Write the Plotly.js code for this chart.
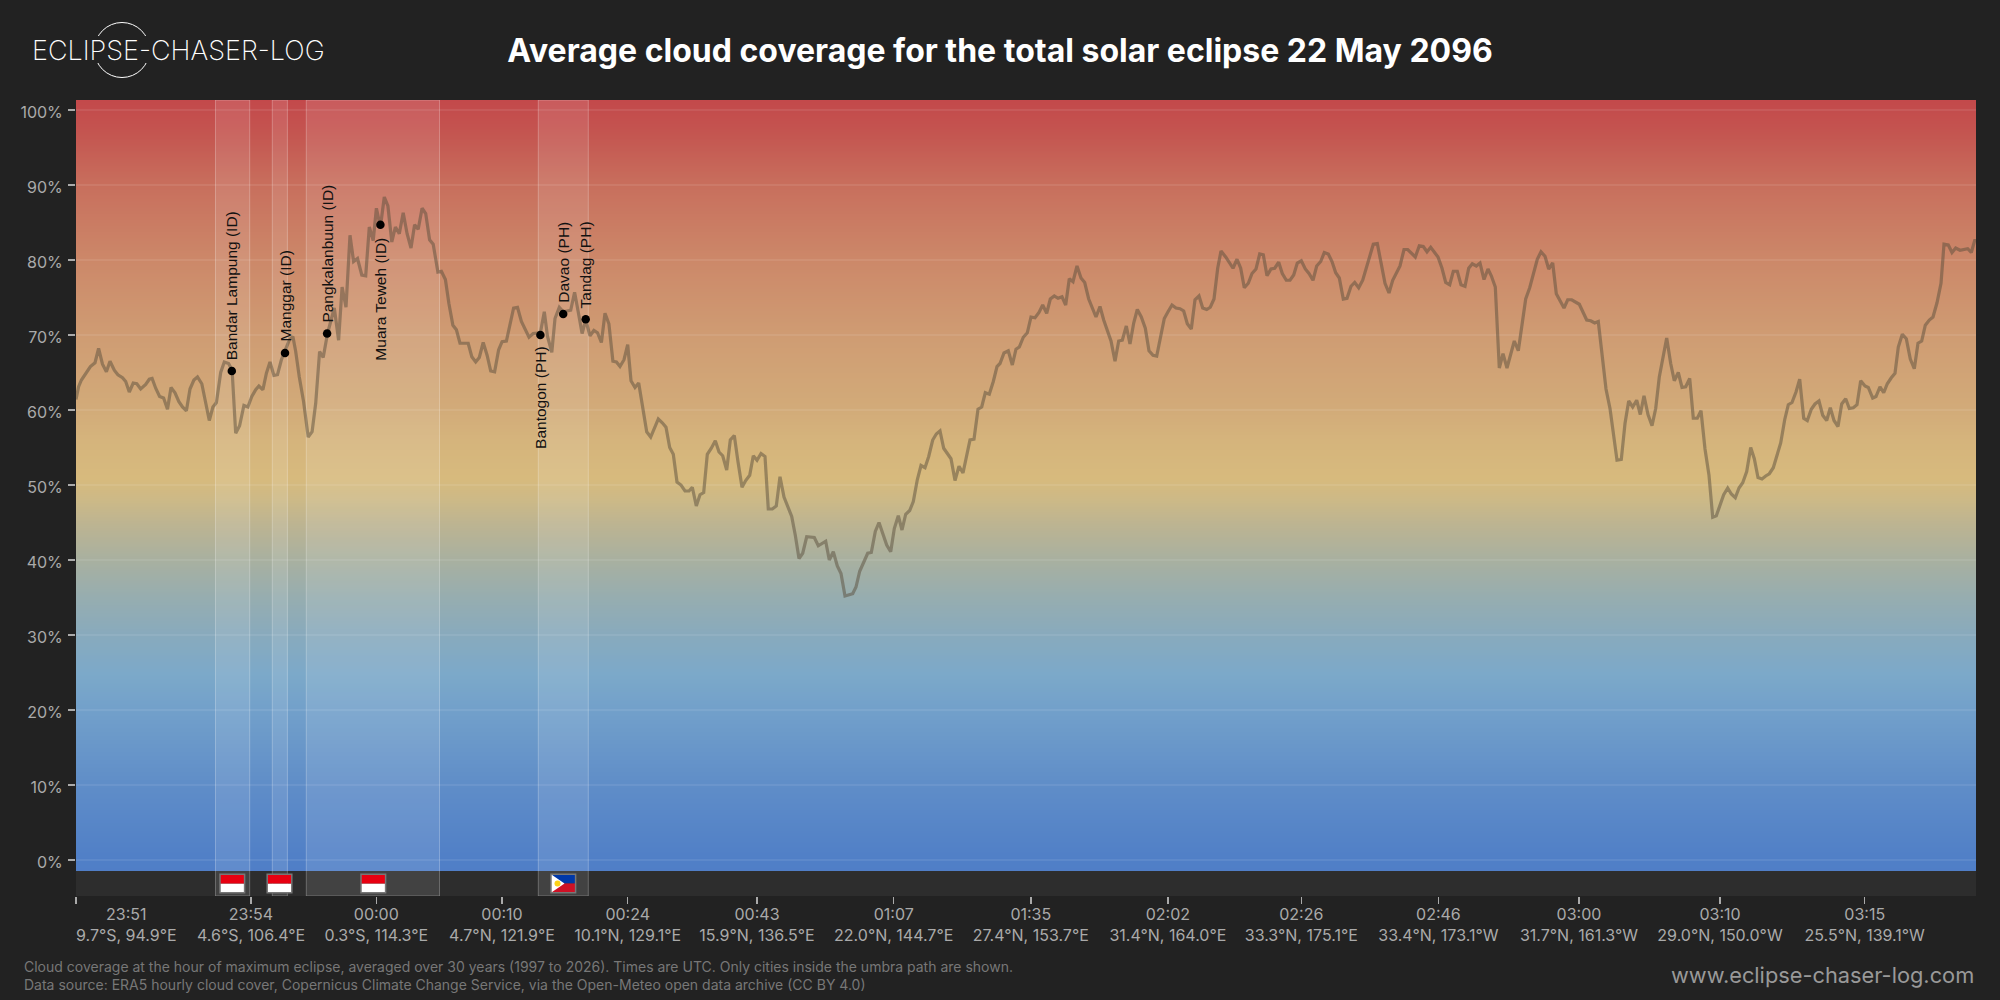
<!DOCTYPE html>
<html><head><meta charset="utf-8">
<script src="https://cdn.plot.ly/plotly-3.0.1.min.js"></script>
<style>html,body{margin:0;padding:0;background:#222222}</style></head>
<body><div id="chart" style="width:2000px;height:1000px"></div>
<script>
const pathPos=[
0,2.6,5.4,10.8,14.4,19,22.6,26.5,30.4,34,
38.3,41.9,46.5,49.7,53.3,57.2,60.8,64.7,69.7,73.3,
76.1,79.7,83.6,87.6,91.5,95,99,102.9,106.5,110.4,
114,117.9,121.5,125.8,129.4,133.3,136.9,140.4,144.7,148.3,
152.6,156.1,159.7,163.6,167.9,171.9,175.8,179.7,182.9,186.9,
190.4,194,197.9,201.5,205.4,209.7,213.3,216.9,219.7,223.3,
227.6,232.2,236.1,239.7,243.6,247.2,251.5,254.7,258.3,262.6,
266.1,270,274,277.6,281.5,285.8,289.7,293.3,297.2,300.4,
304.4,308.3,311.9,315.8,319.4,323.3,327.2,331.1,335,338.6,
342.2,346.1,349.7,353.6,357.2,361.9,365.4,369.4,372.9,376.9,
380.4,384,392.2,395.8,399.7,403.3,407.2,411.1,414.7,418.6,
422.6,426.1,430.4,437.6,441.5,445.4,453,457.2,464.4,468.3,
471.5,475.8,479,483.3,487.2,494.7,498.6,502.2,506.1,509.7,
514,517.9,521.5,525.4,529,532.9,536.9,540.4,544,548,
551.7,555,559,562.7,566.7,570.7,574.7,578.7,582.3,586.3,
590,593.7,597.3,601,605,609,613,616.3,620.3,624,
627.7,631.3,635.3,639.3,643,646.7,650.7,654.3,658.3,662,
666,669.7,673.7,677.3,681,685,689,692.3,696.3,700.3,
704,708,715.7,719.3,723,726.7,730.7,738.3,742.3,749.7,
753.3,757.3,761.3,765,769,776.7,780,783.7,791.7,795.3,
799.3,803,810.7,814.7,818.3,822.3,826,829.7,833.7,837.3,
841.3,845,849,852.7,856.7,860.3,864,867.7,871.3,875,
879,883,887,890.7,894,898,902,905.7,909.3,913.3,
917.3,921,924,928,932.3,936.3,940,943.3,947.3,951.3,
955,959,963,966.7,970.7,974.3,978.3,982,986,989.7,
993.3,997,1001,1005,1008.7,1012.7,1020,1024,1027.7,1035,
1039,1042.7,1046.3,1050.3,1054,1057.7,1061.3,1065.3,1069.3,1073,
1077,1080.7,1084.7,1088.3,1092,1096,1100,1104,1107.7,1111.3,
1115.3,1119,1123,1126.7,1130.7,1134.3,1138,1141.7,1145,1149.7,
1157,1161,1164.7,1168.3,1172.3,1176,1180,1183.7,1187.3,1191,
1195,1198.7,1202.7,1206.3,1210.3,1214,1217.7,1221.3,1225.3,1229.3,
1233,1237,1240.7,1244.7,1248.3,1252.3,1256,1259.7,1263.3,1267.3,
1271,1275,1278.7,1282.7,1286.7,1290.7,1294,1297.3,1301.3,1305,
1309,1313,1316.7,1324,1328,1331.7,1339.3,1343.3,1347.3,1351,
1354.7,1362,1366,1369.7,1373.7,1377.3,1381.3,1385,1389,1392.7,
1396.3,1400.3,1404,1408,1412,1415.3,1419.3,1423.3,1427,1431,
1434.7,1438.3,1442.3,1446,1449.7,1453.7,1461.3,1465,1469,1472.7,
1476.7,1480.3,1488,1491.7,1495.7,1503.3,1510.7,1514.7,1518.7,1522.3,
1526.3,1530,1534,1541,1545.3,1549,1552.7,1556.7,1560.7,1564.3,
1568,1572,1576,1579.7,1583.3,1590.7,1594.7,1598.3,1602.3,1606,
1609.7,1613.7,1617.3,1621.3,1625,1629,1633,1636.7,1640.3,1647.7,
1651.7,1655.3,1659.3,1663,1666.7,1670.7,1674.7,1678.3,1682,1686,
1689.7,1693.3,1697.3,1704.7,1708.7,1712.3,1716,1720,1723.7,1727.7,
1731.3,1735.3,1739,1743,1746.7,1750.7,1754.3,1758,1762,1765.7,
1769.7,1773.3,1777.3,1781,1784.7,1789,1792.3,1796.7,1800,1804,
1807.7,1811.3,1815.3,1819,1822.3,1826.3,1830.3,1834.3,1838.3,1842,
1845.7,1849.3,1853.3,1857,1861,1865,1868,1872.3,1876,1879.7,
1884,1891.7,1895.3,1898.7,1900];
const cloudCover=[
61.4,63.1,64,65.2,65.8,66.3,68.2,66.1,65.1,66.5,
65.3,64.7,64.3,63.8,62.4,63.6,63.5,62.8,63.4,64.1,
64.2,62.9,61.8,61.6,60.1,63,62.3,61.1,60.4,59.9,
62.8,64,64.4,63.5,61.1,58.6,60.4,61,65,66.4,
66.2,65.3,56.9,57.9,60.6,60.4,61.8,62.7,63.2,62.7,
64.9,66.4,64.6,64.7,66.7,68,69.3,69.8,67.8,64.4,
61.1,56.4,57.1,60.9,67.8,67,70.2,71.8,73.6,69.3,
76.4,73.7,83.3,79.8,80.2,78,77.9,84.4,82.6,86.9,
84.4,88.4,87.2,82.4,84.4,83.5,86.3,83.5,81.6,84.7,
84.1,86.9,86.2,82.7,82.1,78.4,78.5,77.4,74.2,71.3,
70.7,68.9,68.9,67.1,66.4,67,69,67.3,65.2,65.1,
68,69.1,69.2,73.6,73.7,71.8,69.7,70.2,70.3,73.1,
69.8,67.7,72.2,73.7,73.1,73.3,75.7,73.1,70.2,72,
69.9,70.6,70.3,69,72.9,71.5,66.5,66.4,65.8,66.7,
68.7,63.9,63,63.6,60,57.1,56.4,57.8,58.8,58.3,
57.7,55,54.1,50.4,50,49.2,49.2,49.7,47.2,48.7,
49,54.1,54.9,55.9,54.4,53.9,52,56,56.6,53.1,
49.7,50.6,51.3,53.9,53.3,54.2,53.8,46.8,46.8,47.2,
51.1,48.4,45.8,43.3,40.2,40.9,43.1,43,41.9,42.5,
40,41.1,39.2,38.2,35.2,35.5,36.4,38.5,40.9,41,
43.8,45,42,41.1,44.2,45.9,44,46.1,46.6,47.8,
50.7,52.6,52.3,53.8,56,56.8,57.2,54.9,54.2,53.5,
50.6,52.5,51.6,53.8,56,56.1,60.1,60.4,62.3,62.1,
63.8,65.8,66.2,67.6,67.9,66,68.1,68.4,69.7,70.3,
72.4,72.3,73,74,72.9,74.8,75.2,74.9,75.1,74,
77.5,77.1,79.2,77.6,77,74.8,72.4,73.8,72,69.2,
66.5,69.2,69.3,71.2,68.8,71.6,73.4,72.4,70.9,67.9,
67.3,67.2,69.9,72.2,73.1,74,73.6,73.5,73.2,71.5,
70.8,74.7,75.2,73.6,73.4,73.7,74.8,78.9,81.2,80.4,
78.9,80.1,78.9,76.3,76.9,78.2,78.8,80.8,80.7,77.9,
78.8,78.9,79.7,78.2,77.3,77.3,78,79.6,79.9,78.8,
78.2,77.3,79.2,79.8,81,80.8,79.8,78.3,77.6,74.8,
74.9,76.5,77,76.3,77.3,79.2,80.7,82.1,82.2,79.6,
76.9,75.6,77.3,79.2,81.4,81.4,80.4,81.9,81.8,81.1,
81.7,80.4,78.9,77,76.7,78.5,78.5,76.7,76.5,78.9,
79.5,79.2,79.6,77.4,78.8,77.9,76.4,65.6,67.5,65.6,
67.3,69.2,67.9,71.1,74.8,76.3,80.1,81.1,80.5,78.8,
79.6,75.5,73.6,74.7,74.7,74.1,72,71.9,71.6,71.8,
67.3,62.8,60.2,53.3,53.4,58.2,61.2,60.4,61.3,59.4,
61.9,59.4,57.9,60.2,64.4,69.6,66.2,63.9,65,63,
63.1,64.2,58.9,58.9,59.9,54.8,51.3,45.7,45.9,48.7,
49.6,48.8,48.3,49.6,50.3,51.8,55,53.5,51,50.8,
51.2,51.5,52.3,55.6,58.7,60.7,61,62.4,64.1,58.9,
58.6,60.1,60.8,61.2,59.3,58.6,60.3,58.6,57.8,60.8,
61.5,60.2,60.3,60.7,63.9,63.2,63,61.6,61.8,63.1,
62.3,63.5,64.3,64.9,68.4,70.1,69.5,66.8,65.5,68.9,
69.2,71.3,72,72.4,74.3,76.9,82.1,82,81,81.6,
81.3,81.5,81,82.6,82.6];
const cityNames=["Bandar Lampung (ID)","Manggar (ID)","Pangkalanbuun (ID)","Muara Teweh (ID)","Bantogon (PH)","Davao (PH)","Tandag (PH)"];
const cityPos=[155.8,209,251.1,304.4,464.4,487.2,509.7];
const cityCover=[65.2,67.6,70.2,84.7,70,72.8,72.1];
const cityBelow=[false,false,false,true,true,false,false];
const cityShift=[10,10,10,12,10,10,10];
const bandStart=[139.5,196.3,230.3,462.3];
const bandEnd=[173.7,211.4,363.5,512.3];
const flagPos=[156.3,203.5,297.3,487.3];
const flagKind=["ID","ID","ID","PH"];
const tickPos=[175,300.3,426,551.7,681,817.7,954.8,1091.9,1225.3,1362.4,1503,1644,1788.7];
const tickLabels=["23:54<br>4.6°S, 106.4°E","00:00<br>0.3°S, 114.3°E","00:10<br>4.7°N, 121.9°E","00:24<br>10.1°N, 129.1°E","00:43<br>15.9°N, 136.5°E","01:07<br>22.0°N, 144.7°E","01:35<br>27.4°N, 153.7°E","02:02<br>31.4°N, 164.0°E","02:26<br>33.3°N, 175.1°E","02:46<br>33.4°N, 173.1°W","03:00<br>31.7°N, 161.3°W","03:10<br>29.0°N, 150.0°W","03:15<br>25.5°N, 139.1°W"];
const yTicks=[0,10,20,30,40,50,60,70,80,90,100];
const yLabels=["0%","10%","20%","30%","40%","50%","60%","70%","80%","90%","100%"];
const gradLevels=[-6,0,10,20,25,30,35,40,45,48,51,56,60,70,80,90,97,102];
const gradColors=["#4f7cc6","#507fc7","#5f8dc8","#72a0ca","#7ca9c9","#88aabd","#96adb0","#a8b0a0","#bdb491","#ccb987","#d7ba7d","#d5b47c","#d2ab79","#cf9c73","#cc8869","#c86f5d","#c45550","#c3474a"];

const W=2000,H=1000,L=76,R=1976,T=100,B=896;
const yMin=(860-B)/7.5,yMax=(860-T)/7.5,stripTop=-1.47;
const fx=p=>(p-L)/(R-L), fy=p=>(B-p)/(B-T);
const gMin=gradLevels[0],gMax=gradLevels[gradLevels.length-1];

const traces=[];
traces.push({type:'heatmap',x:[-20,1920],y:gradLevels,z:gradLevels.map(v=>[v,v]),zmin:gMin,zmax:gMax,zsmooth:'best',
 colorscale:gradLevels.map((v,i)=>[(v-gMin)/(gMax-gMin),gradColors[i]]),showscale:false,hoverinfo:'skip'});
traces.push({type:'scatter',mode:'lines',x:[0,1900,1900,0,0],y:[yMin,yMin,stripTop,stripTop,yMin],fill:'toself',fillcolor:'#2d2d2d',line:{width:0},hoverinfo:'skip',showlegend:false});
yTicks.forEach(v=>traces.push({type:'scatter',mode:'lines',x:[0,1900],y:[v,v],line:{color:'rgba(255,255,255,0.16)',width:1},hoverinfo:'skip',showlegend:false}));
bandStart.forEach((s,i)=>traces.push({type:'scatter',mode:'lines',x:[s,bandEnd[i],bandEnd[i],s,s],y:[yMin,yMin,yMax,yMax,yMin],fill:'toself',fillcolor:'rgba(255,255,255,0.1)',line:{color:'rgba(255,255,255,0.26)',width:1},hoverinfo:'skip',showlegend:false}));
traces.push({type:'scatter',mode:'lines',x:pathPos,y:cloudCover,line:{color:'rgba(90,78,60,0.5)',width:3.2},name:'Cloud coverage',showlegend:false});
traces.push({type:'scatter',mode:'markers',x:cityPos,y:cityCover,marker:{color:'#000',size:8.5},text:cityNames,showlegend:false});

const annotations=[];
cityNames.forEach((n,i)=>annotations.push({text:n,x:cityPos[i],y:cityCover[i],xref:'x',yref:'y',showarrow:false,textangle:-90,
 xanchor:'center',yanchor:cityBelow[i]?'top':'bottom',yshift:cityBelow[i]?-cityShift[i]:cityShift[i],
 font:{family:'Liberation Sans',size:15.5,color:'#111'},borderpad:0}));
annotations.push({text:'23:51<br>9.7°S, 94.9°E',xref:'x',yref:'paper',x:50,y:fy(924),xanchor:'center',yanchor:'middle',showarrow:false,font:{family:'Inter',size:16,color:'#aaaaaa'},align:'center'});
annotations.push({text:'Cloud coverage at the hour of maximum eclipse, averaged over 30 years (1997 to 2026). Times are UTC. Only cities inside the umbra path are shown.<br>Data source: ERA5 hourly cloud cover, Copernicus Climate Change Service, via the Open-Meteo open data archive (CC BY 4.0)',
 xref:'paper',yref:'paper',x:fx(22),y:fy(975.5),xanchor:'left',yanchor:'middle',align:'left',showarrow:false,font:{family:'Inter',size:14,color:'#777777'}});
annotations.push({text:'www.eclipse-chaser-log.com',xref:'paper',yref:'paper',x:fx(1976),y:fy(975),xanchor:'right',yanchor:'middle',showarrow:false,font:{family:'Inter',size:21.8,color:'#999999'}});
annotations.push({text:'ECLIPSE-CHASER-LOG',xref:'paper',yref:'paper',x:fx(178.5),y:fy(50),xanchor:'center',yanchor:'middle',showarrow:false,font:{family:'Inter',size:27,color:'#ffffff',weight:200}});

const shapes=[];
shapes.push({type:'circle',xref:'paper',yref:'paper',x0:fx(94.5),x1:fx(149.5),y0:fy(77.5),y1:fy(22.5),line:{color:'#ffffff',width:1}});
shapes.push({type:'rect',xref:'paper',yref:'paper',x0:fx(90),x1:fx(154),y0:fy(63),y1:fy(36),line:{width:0},fillcolor:'#222222'});
const fw=12.3,fT=-1.9,fB=-4.36,fM=(fT+fB)/2;
flagPos.forEach((p,i)=>{
 if(flagKind[i]==='ID'){
  shapes.push({type:'rect',x0:p-fw,x1:p+fw,y0:fM,y1:fB,fillcolor:'#ffffff',line:{width:0}});
  shapes.push({type:'rect',x0:p-fw,x1:p+fw,y0:fT,y1:fM,fillcolor:'#e70011',line:{width:0}});
 }else{
  shapes.push({type:'rect',x0:p-fw,x1:p+fw,y0:fT,y1:fM,fillcolor:'#0038a8',line:{width:0}});
  shapes.push({type:'rect',x0:p-fw,x1:p+fw,y0:fM,y1:fB,fillcolor:'#ce1126',line:{width:0}});
  shapes.push({type:'path',path:`M${p-fw},${fT} L${p+fw*0.1},${fM} L${p-fw},${fB} Z`,fillcolor:'#ffffff',line:{width:0}});
  shapes.push({type:'circle',x0:p-fw+3.5,x1:p-fw+9.5,y0:fM-0.4,y1:fM+0.4,fillcolor:'#fcd116',line:{width:0}});
 }
 shapes.push({type:'rect',x0:p-fw,x1:p+fw,y0:fT,y1:fB,line:{color:'#777777',width:1.5}});
});

const layout={width:W,height:H,paper_bgcolor:'#222222',plot_bgcolor:'#2d2d2d',showlegend:false,
 margin:{l:L,r:W-R,t:T,b:H-B,pad:0},
 title:{text:'<b>Average cloud coverage for the total solar eclipse 22 May 2096</b>',x:0.5,xref:'container',xanchor:'center',y:0.949,yref:'container',yanchor:'middle',font:{family:'Inter',size:32,color:'#ffffff'}},
 xaxis:{range:[0,1900],tickmode:'array',tickvals:[0].concat(tickPos),ticktext:[''].concat(tickLabels),ticks:'outside',ticklen:7,tickwidth:1.5,tickcolor:'#aaaaaa',showgrid:false,zeroline:false,showline:false,tickangle:0,ticklabelstandoff:-3,tickfont:{family:'Inter',size:16,color:'#aaaaaa'},fixedrange:true},
 yaxis:{range:[yMin,yMax],tickmode:'array',tickvals:yTicks,ticktext:yLabels,ticks:'outside',ticklen:7,tickwidth:1.5,tickcolor:'#aaaaaa',showgrid:false,zeroline:false,showline:false,ticklabelstandoff:2,ticklabelshift:2,tickfont:{family:'Inter',size:16,color:'#aaaaaa'},fixedrange:true},
 annotations,shapes};
Plotly.newPlot('chart',traces,layout,{displayModeBar:false,staticPlot:true});
</script></body></html>
